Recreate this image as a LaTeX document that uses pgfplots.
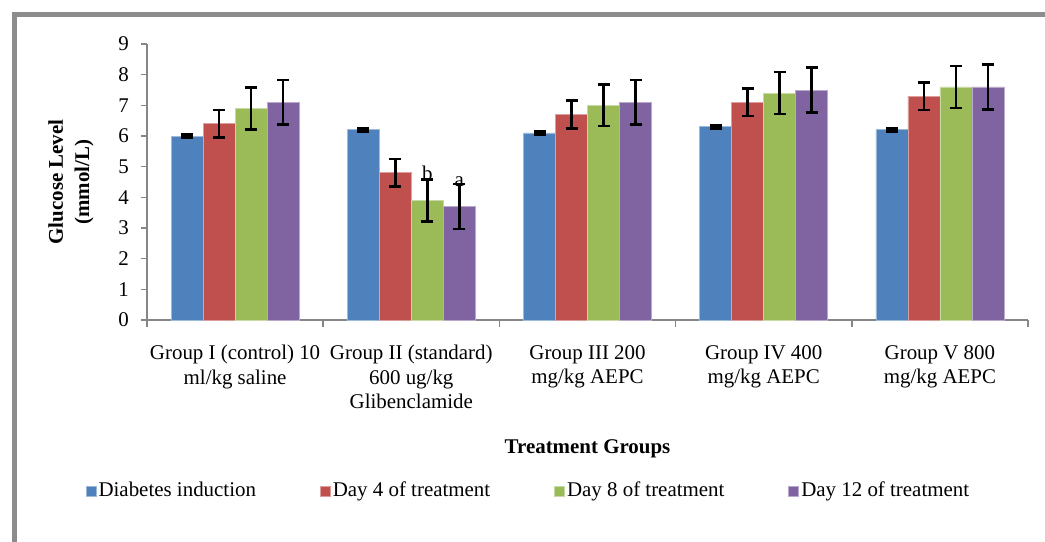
\documentclass[border=0pt]{standalone}
\usepackage{pgfplots}
\pgfplotsset{compat=1.18}
\usepackage{fontspec}
\setmainfont{Liberation Serif}
\definecolor{xblue}{HTML}{4F81BD}
\definecolor{xred}{HTML}{C0504D}
\definecolor{xgreen}{HTML}{9BBB59}
\definecolor{xpurple}{HTML}{8064A2}
\definecolor{axgray}{HTML}{868686}
\definecolor{framegray}{HTML}{8C8C8C}
\begin{document}
\fontsize{21}{24.5}\selectfont
\begin{tikzpicture}
\useasboundingbox (0,0) rectangle (1045bp,-542bp);
\draw[framegray, line width=5bp] (14bp,-542bp) -- (14bp,-14.5bp) -- (1045bp,-14.5bp);
\begin{axis}[
  at={(147bp,-320bp)}, anchor=south west,
  width=881bp, height=276bp, scale only axis,
  xmin=-0.5, xmax=4.5, ymin=0, ymax=9,
  ybar=0pt, bar width=32bp,
  axis x line*=bottom, axis y line*=left,
  axis line style={axgray, line width=1.5bp},
  tick align=outside,
  ytick={0,1,...,9},
  major tick length=6bp,
  tick style={axgray, line width=1.5bp},
  xtick={0,1,2,3,4},
  major x tick style={draw=none},
  minor xtick={-0.5,0.5,1.5,2.5,3.5,4.5},
  minor tick length=7bp,
  minor x tick style={axgray, line width=1.5bp},
  xticklabels={{Group I (control) 10\\ml/kg saline},{Group II (standard)\\600 ug/kg\\Glibenclamide},{Group III 200\\mg/kg AEPC},{Group IV 400\\mg/kg AEPC},{Group V 800\\mg/kg AEPC}},
  xticklabel style={align=center, yshift=-12bp},
  yticklabel style={xshift=-5bp},
  /pgf/number format/assume math mode=true,
  every axis x label/.style={at={(axis description cs:0.5,-0.466)}, anchor=center, font=\bfseries},
  every axis y label/.style={at={(axis description cs:-0.0863,0.5)}, rotate=90, anchor=center, align=center, font=\bfseries},
  xlabel={Treatment Groups},
  ylabel={Glucose Level\\[2bp](mmol/L)},
  legend columns=4,
  legend style={draw=none, fill=none, at={(0.433,-0.62)}, anchor=center,
    /tikz/every even column/.append style={column sep=62bp},
    nodes={inner sep=2bp}},
  legend image code/.code={\fill[#1] (0bp,-5bp) rectangle (10bp,5bp);},
  error bars/y dir=both, error bars/y explicit,
  error bars/error bar style={line width=2.5bp, black},
  error bars/error mark options={rotate=90, mark size=6bp, line width=2.5bp, black},
]
\addplot[fill=xblue, draw=xblue!55!white, line width=0.8bp] coordinates {
  (0,6.0) +- (0,0.05) (1,6.2) +- (0,0.05) (2,6.1) +- (0,0.05) (3,6.3) +- (0,0.05) (4,6.2) +- (0,0.05)};
\addplot[fill=xred, draw=xred!55!white, line width=0.8bp] coordinates {
  (0,6.4) +- (0,0.45) (1,4.8) +- (0,0.45) (2,6.7) +- (0,0.45) (3,7.1) +- (0,0.45) (4,7.3) +- (0,0.45)};
\addplot[fill=xgreen, draw=xgreen!55!white, line width=0.8bp] coordinates {
  (0,6.9) +- (0,0.68) (1,3.9) +- (0,0.68) (2,7.0) +- (0,0.68) (3,7.4) +- (0,0.68) (4,7.6) +- (0,0.68)};
\addplot[fill=xpurple, draw=xpurple!55!white, line width=0.8bp] coordinates {
  (0,7.1) +- (0,0.73) (1,3.7) +- (0,0.73) (2,7.1) +- (0,0.73) (3,7.5) +- (0,0.73) (4,7.6) +- (0,0.73)};
\legend{Diabetes induction, Day 4 of treatment, Day 8 of treatment, Day 12 of treatment}
\node[anchor=base, inner sep=0pt] at (axis cs:1.0908,4.56) {b};
\node[anchor=base, inner sep=0pt] at (axis cs:1.2724,4.34) {a};
\end{axis}
\end{tikzpicture}
\end{document}
